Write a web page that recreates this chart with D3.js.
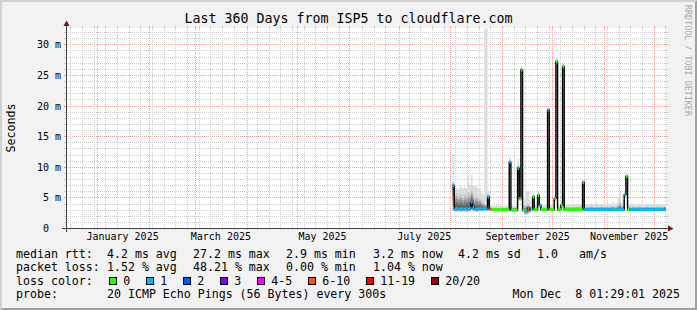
<!DOCTYPE html>
<html>
<head>
<meta charset="utf-8">
<script src="https://cdnjs.cloudflare.com/ajax/libs/d3/7.8.5/d3.min.js"></script>
<style>
  body { margin: 0; background: #f2f2f2; }
  svg { display: block; }
  text { font-family: "DejaVu Sans Mono", monospace; }
</style>
</head>
<body>
<svg id="chart"></svg>
<script>
var titleText = "Last 360 Days from ISP5 to cloudflare.com";
var yAxisTitle = "Seconds";
var watermark = "RRDTOOL / TOBI OETIKER";
var endTime = Date.UTC(2025, 11, 8, 1, 29, 1);
var rangeDays = 360;
var firstSample = "2025-08-02"; // one sample per day from here on
var yMax = 32.66;

// median rtt per day, ms
var median = [
  7.0, 3.2, 3.3, 3.2, 3.2, 3.3, 3.2, 3.2, 3.3, 3.2,
  3.3, 4.3, 3.5, 3.2, 3.2, 3.2, 3.3, 3.2, 3.2, 3.2,
  3.2, 5.1, 3.2, 3.1, 3.1, 3.1, 3.1, 3.1, 3.1, 3.1,
  3.1, 3.1, 3.1, 3.1, 10.8, 3.0, 3.0, 3.1, 3.0, 9.8,
  4.9, 25.9, 3.0, 2.9, 2.9, 3.3, 3.2, 3.1, 5.1, 3.1,
  3.1, 5.4, 3.8, 3.1, 3.1, 3.1, 3.1, 19.3, 3.1, 3.1,
  3.1, 4.9, 27.2, 3.1, 3.1, 3.8, 26.4, 3.1, 3.1, 3.1,
  3.1, 3.1, 3.1, 3.1, 3.1, 3.1, 3.1, 3.1, 7.5, 3.1,
  3.1, 3.1, 3.1, 3.1, 3.1, 3.1, 3.1, 3.1, 3.1, 3.1,
  3.1, 3.1, 3.1, 3.1, 3.1, 3.1, 3.1, 3.1, 3.1, 3.1,
  3.1, 3.1, 3.1, 5.5, 8.5, 3.1, 3.1, 3.1, 3.1, 3.1,
  3.1, 3.1, 3.1, 3.1, 3.1, 3.1, 3.1, 3.1, 3.1, 3.1,
  3.1, 3.1, 3.1, 3.1, 3.1, 3.1, 3.1, 3.2
];
// lost pings out of 20 per day
var lostPings = [
  1, 1, 1, 1, 1, 1, 1, 1, 1, 1,
  1, 1, 1, 1, 1, 1, 1, 1, 1, 1,
  1, 1, 8, 0, 0, 0, 0, 0, 0, 0,
  0, 0, 0, 0, 1, 0, 0, 0, 0, 1,
  0, 0, 0, 0, 1, 8, 2, 0, 0, 0,
  0, 0, 1, 0, 0, 0, 0, 1, 0, 0,
  0, 0, 0, 0, 0, 0, 0, 0, 0, 0,
  0, 0, 0, 0, 0, 0, 0, 0, 0, 1,
  1, 1, 1, 1, 1, 1, 1, 1, 1, 1,
  1, 1, 1, 1, 1, 1, 1, 0, 1, 1,
  1, 1, 1, 1, 0, 0, 1, 1, 1, 1,
  1, 1, 1, 1, 1, 1, 1, 1, 1, 1,
  1, 1, 1, 1, 1, 1, 1, 1
];
// smoke: lowest ping, upper body, highest ping (ms)
var smokeLo = [
  2.9, 2.8, 2.7, 2.8, 2.8, 2.7, 2.8, 2.8, 2.7, 2.8,
  2.8, 2.9, 2.8, 2.8, 2.7, 2.8, 2.8, 2.8, 2.9, 2.9,
  2.9, 3.0, 2.9, 2.8, 2.8, 2.8, 2.8, 2.8, 2.8, 2.8,
  2.8, 2.8, 2.8, 2.8, 10.2, 2.8, 2.7, 2.8, 2.8, 5.0,
  4.5, 25.4, 2.7, 2.3, 2.3, 2.4, 2.6, 2.8, 4.6, 2.8,
  2.8, 4.9, 3.4, 2.8, 2.8, 2.8, 2.8, 18.9, 2.8, 2.8,
  2.8, 4.5, 26.8, 2.8, 2.8, 3.4, 26.0, 2.8, 2.8, 2.8,
  2.8, 2.8, 2.8, 2.8, 2.8, 2.8, 2.8, 2.8, 7.1, 2.8,
  2.8, 2.8, 2.8, 2.8, 2.8, 2.8, 2.8, 2.8, 2.8, 2.8,
  2.8, 2.8, 2.8, 2.8, 2.8, 2.8, 2.8, 2.8, 2.8, 2.8,
  2.8, 2.8, 2.8, 5.2, 8.2, 2.8, 2.8, 2.8, 2.8, 2.8,
  2.8, 2.8, 2.8, 2.8, 2.8, 2.8, 2.8, 2.8, 2.8, 2.8,
  2.8, 2.8, 2.8, 2.8, 2.8, 2.8, 2.8, 2.8
];
var smokeHi = [
  7.5, 5.5, 5.8, 5.2, 5.6, 5.4, 5.0, 5.6, 5.3, 5.9,
  5.5, 6.2, 5.4, 5.0, 5.3, 4.8, 4.9, 4.5, 4.2, 4.0,
  4.0, 5.6, 3.6, 3.4, 3.4, 3.4, 3.4, 3.4, 3.4, 3.4,
  3.4, 3.4, 3.4, 3.4, 11.2, 3.4, 3.4, 3.4, 3.4, 10.3,
  5.3, 26.2, 3.4, 3.7, 3.8, 3.9, 3.6, 3.4, 5.5, 3.4,
  3.4, 5.8, 4.1, 3.4, 3.4, 3.4, 3.4, 19.6, 3.4, 3.4,
  3.4, 5.2, 27.6, 3.4, 3.4, 4.1, 26.8, 3.5, 3.5, 3.5,
  3.5, 3.5, 3.5, 3.5, 3.5, 3.5, 3.5, 3.5, 7.8, 3.5,
  3.5, 3.5, 3.5, 3.6, 3.5, 3.5, 3.6, 3.5, 3.5, 3.6,
  3.5, 3.5, 3.6, 3.5, 3.5, 3.6, 3.6, 3.5, 3.5, 3.8,
  4.2, 3.6, 3.8, 5.8, 8.8, 3.5, 3.5, 3.5, 3.6, 3.5,
  3.5, 3.5, 3.6, 3.5, 3.5, 3.5, 3.6, 3.5, 3.5, 3.5,
  3.5, 3.5, 3.5, 3.6, 3.5, 3.5, 3.5, 3.5
];
var smokeTop = [
  12.2, 6.8, 6.6, 6.4, 6.9, 6.7, 6.5, 6.8, 6.6, 8.7,
  7.2, 8.7, 7.0, 6.8, 7.0, 6.5, 6.6, 5.8, 5.5, 33.0,
  33.0, 6.0, 4.0, 3.7, 3.7, 3.7, 3.8, 3.7, 3.7, 3.7,
  3.7, 3.7, 3.7, 3.7, 11.5, 3.7, 3.7, 3.7, 3.7, 11.4,
  5.6, 26.5, 3.8, 5.0, 6.0, 6.2, 4.6, 3.8, 5.8, 3.8,
  3.8, 6.1, 4.4, 3.8, 3.8, 3.8, 3.8, 19.9, 3.8, 3.8,
  3.8, 5.5, 27.9, 3.8, 3.8, 4.4, 27.1, 3.9, 3.9, 3.9,
  3.9, 3.9, 3.9, 3.9, 3.9, 3.9, 3.9, 3.9, 8.0, 3.9,
  3.9, 4.0, 3.9, 4.1, 3.9, 4.0, 4.2, 3.9, 4.0, 4.1,
  4.0, 3.9, 4.2, 4.0, 3.9, 4.1, 4.3, 4.0, 4.1, 5.0,
  5.9, 4.2, 4.6, 6.0, 9.2, 4.0, 3.9, 4.0, 4.1, 3.9,
  4.0, 3.9, 4.1, 4.0, 3.9, 4.0, 4.1, 3.9, 4.0, 3.9,
  4.0, 3.9, 4.0, 4.1, 3.9, 4.0, 3.9, 4.0
];

var yTicks = [0, 5, 10, 15, 20, 25, 30];
var yTickLabels = ["0  ", "5 m", "10 m", "15 m", "20 m", "25 m", "30 m"];
var xLabelMonths = ["2025-01-01", "2025-03-01", "2025-05-01", "2025-07-01", "2025-09-01", "2025-11-01"];
var xLabels = ["January 2025", "March 2025", "May 2025", "July 2025", "September 2025", "November 2025"];

var lossLabels = ["0", "1", "2", "3", "4-5", "6-10", "11-19", "20/20"];
var lossLimits = [0, 1, 2, 3, 5, 10, 19, 20];
var lossColors = ["#26ff00", "#00b8ff", "#0059ff", "#7e00ff", "#ff00ff", "#ff5500", "#ff0000", "#a00000"];

var rttStats = ["4.2 ms avg", "27.2 ms max", "2.9 ms min", "3.2 ms now", "4.2 ms sd", "1.0", "am/s"];
var lossStats = ["1.52 % avg", "48.21 % max", "0.00 % min", "1.04 % now"];
var probeText = "20 ICMP Echo Pings (56 Bytes) every 300s";
var stampText = "Mon Dec  8 01:29:01 2025";

var W = 697, H = 310;
var X0 = 66, X1 = 666, Y0 = 228, Y1 = 28;
var DAY = 864e5;

var svg = d3.select("#chart").attr("width", W).attr("height", H);

var x = d3.scaleUtc()
  .domain([new Date(endTime - rangeDays * DAY), new Date(endTime)])
  .range([X0, X1]);
var y = d3.scaleLinear().domain([0, yMax]).range([Y0 + 0.5, Y1 + 0.5]);

function px(v) { return Math.round(v - 0.5) + 0.5; }

// background + bevel
svg.append("rect").attr("width", W).attr("height", H).attr("fill", "#f2f2f2");
svg.append("path").attr("d", "M0,0H" + W + "L" + (W - 2) + ",2H2V" + (H - 2) + "L0," + H + "Z").attr("fill", "#d0d0d0");
svg.append("path").attr("d", "M" + W + ",0V" + H + "H0L2," + (H - 2) + "H" + (W - 2) + "V2Z").attr("fill", "#a0a0a0");
svg.append("rect").attr("x", X0).attr("y", Y1).attr("width", X1 - X0).attr("height", Y0 - Y1).attr("fill", "#ffffff");

var t0 = x.domain()[0], t1 = x.domain()[1];
var grid = svg.append("g");
var minorCol = "#cdcdcd", majorCol = "#f0a0a0";

// horizontal grid
d3.range(1, 33).forEach(function (v) {
  var yy = px(y(v));
  var col = v % 5 == 0 ? majorCol : minorCol;
  grid.append("line").attr("x1", X0 - 2).attr("x2", X1 + 2).attr("y1", yy).attr("y2", yy)
    .attr("stroke", col).attr("stroke-dasharray", "1,1");
  grid.append("line").attr("x1", X0 - 2).attr("x2", X0).attr("y1", yy).attr("y2", yy).attr("stroke", col);
  grid.append("line").attr("x1", X1).attr("x2", X1 + 2).attr("y1", yy).attr("y2", yy).attr("stroke", col);
});

// vertical grid: weeks (minor) and months (major)
var months = d3.utcMonth.range(t0, t1);
var weeks = d3.utcMonday.range(t0, t1).filter(function (w) {
  return !months.some(function (m) { return Math.abs(x(m) - x(w)) < 2; });
});
function vline(t, col) {
  var xx = px(x(t));
  grid.append("line").attr("x1", xx).attr("x2", xx).attr("y1", Y1 - 2).attr("y2", Y0 + 2)
    .attr("stroke", col).attr("stroke-dasharray", "1,1");
  grid.append("line").attr("x1", xx).attr("x2", xx).attr("y1", Y0).attr("y2", Y0 + 2).attr("stroke", col);
  grid.append("line").attr("x1", xx).attr("x2", xx).attr("y1", Y1 - 2).attr("y2", Y1).attr("stroke", col);
}
weeks.forEach(function (w) { vline(w, minorCol); });
months.forEach(function (m) { vline(m, majorCol); });

// samples
var start = new Date(firstSample + "T00:00:00Z").getTime();
var samples = median.map(function (m, i) {
  return {
    t: new Date(start + i * DAY), m: m, loss: lostPings[i],
    lo: smokeLo[i], hi: smokeHi[i], top: Math.min(smokeTop[i], yMax)
  };
});
var last = samples[samples.length - 1];
var stepData = samples.concat([Object.assign({}, last, { t: new Date(Math.min(+last.t + DAY, endTime)) })]);

// smoke
var plot = svg.append("g");
plot.append("path").datum(stepData)
  .attr("fill", "#dcdcdc")
  .attr("d", d3.area().curve(d3.curveStepAfter)
    .x(function (d) { return x(d.t); })
    .y0(function (d) { return y(d.lo); })
    .y1(function (d) { return y(d.top); }));

var smokeLevels = [
  { f: 1.0, c: "#c6c6c6" },
  { f: 0.8, c: "#aaaaaa" },
  { f: 0.6, c: "#8e8e8e" },
  { f: 0.4, c: "#727272" },
  { f: 0.2, c: "#565656" }
];
smokeLevels.forEach(function (lv) {
  plot.append("path").datum(stepData)
    .attr("fill", lv.c)
    .attr("d", d3.area().curve(d3.curveStepAfter)
      .x(function (d) { return x(d.t); })
      .y0(function (d) { return y(d.m - (d.m - d.lo) * lv.f); })
      .y1(function (d) { return y(d.m + (d.hi - d.m) * lv.f); }));
});

// median line
plot.append("path").datum(stepData)
  .attr("fill", "none").attr("stroke", "#000").attr("stroke-width", 1.4)
  .attr("d", d3.line().curve(d3.curveStepAfter)
    .x(function (d) { return x(d.t); })
    .y(function (d) { return y(d.m); }));

function lossIndex(n) {
  for (var k = 0; k < lossLimits.length; k++) if (n <= lossLimits[k]) return k;
  return lossLimits.length - 1;
}
lossColors.forEach(function (col, k) {
  var d = "";
  samples.forEach(function (s, i) {
    if (lossIndex(s.loss) != k) return;
    var xa = x(s.t), xb = x(stepData[i + 1].t);
    d += "M" + xa + "," + y(s.m) + "H" + xb;
  });
  if (d) plot.append("path").attr("d", d).attr("fill", "none").attr("stroke", col).attr("stroke-width", 3);
});

// axes
var axisCol = "#404040";
svg.append("line").attr("x1", X0 - 4).attr("x2", X1 + 4).attr("y1", Y0 + 0.5).attr("y2", Y0 + 0.5).attr("stroke", axisCol);
svg.append("line").attr("x1", X0 + 0.5).attr("x2", X0 + 0.5).attr("y1", Y0 + 4).attr("y2", Y1 - 4).attr("stroke", axisCol);
svg.append("path").attr("d", "M" + (X1 + 2) + "," + (Y0 - 2.5) + "L" + (X1 + 2) + "," + (Y0 + 3.5) + "L" + (X1 + 7.5) + "," + (Y0 + 0.5) + "Z").attr("fill", "#801010");
svg.append("path").attr("d", "M" + (X0 - 2.5) + "," + (Y1 - 2) + "L" + (X0 + 3.5) + "," + (Y1 - 2) + "L" + (X0 + 0.5) + "," + (Y1 - 7.5) + "Z").attr("fill", "#801010");

// y labels
svg.append("g").selectAll("text").data(yTicks).enter().append("text")
  .attr("x", 61).attr("y", function (d) { return px(y(d)); })
  .attr("dy", "0.35em").attr("text-anchor", "end")
  .style("white-space", "pre").style("font-size", "10px").attr("fill", "#000")
  .text(function (d, i) { return yTickLabels[i]; });

// x labels, centred half a month after the label month
svg.append("g").selectAll("text").data(xLabelMonths).enter().append("text")
  .attr("x", function (d) { return x(new Date(new Date(d + "T00:00:00Z").getTime() + 15 * DAY)); })
  .attr("y", 240).attr("text-anchor", "middle").style("font-size", "10px").attr("fill", "#000")
  .text(function (d, i) { return xLabels[i]; });

// titles
svg.append("text").attr("x", W / 2).attr("y", 23).attr("text-anchor", "middle")
  .style("font-size", "13.3px").attr("fill", "#000").text(titleText);
svg.append("text").attr("transform", "translate(15," + ((Y0 + Y1) / 2) + ") rotate(-90)")
  .attr("text-anchor", "middle").style("font-size", "11.6px").attr("fill", "#000").text(yAxisTitle);
svg.append("text").attr("transform", "translate(685,5) rotate(90)")
  .style("font-size", "8.4px").attr("fill", "#aaaaaa").text(watermark);

// legend
var leg = svg.append("g").style("font-size", "11.6px").attr("fill", "#000");
var statX = [107, 193, 286, 373, 458, 537, 579];
leg.append("text").attr("x", 16).attr("y", 257.5).text("median rtt:");
rttStats.forEach(function (s, i) { leg.append("text").attr("x", statX[i]).attr("y", 257.5).text(s); });
leg.append("text").attr("x", 16).attr("y", 271).text("packet loss:");
lossStats.forEach(function (s, i) { leg.append("text").attr("x", statX[i]).attr("y", 271).text(s); });
leg.append("text").attr("x", 16).attr("y", 284.5).text("loss color:");
var bx = 108.5;
lossLabels.forEach(function (lab, i) {
  leg.append("rect").attr("x", Math.round(bx) + 0.5).attr("y", 277.5).attr("width", 7).attr("height", 7)
    .attr("fill", lossColors[i]).attr("stroke", "#000");
  leg.append("text").attr("x", bx + 14.7).attr("y", 284.5).text(lab);
  bx += 30 + 7 * lab.length;
});
leg.append("text").attr("x", 16).attr("y", 298).text("probe:");
leg.append("text").attr("x", 107).attr("y", 298).style("white-space", "pre").text(probeText);
leg.append("text").attr("x", 680).attr("y", 298).attr("text-anchor", "end").style("white-space", "pre").text(stampText);
</script>
</body>
</html>
